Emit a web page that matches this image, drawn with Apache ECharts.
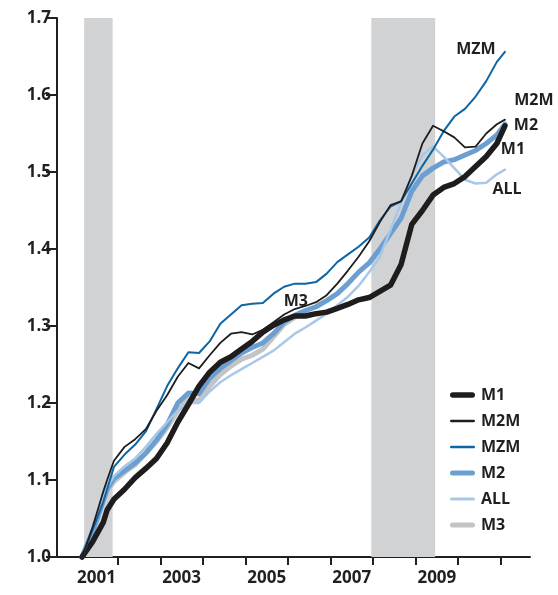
<!DOCTYPE html>
<html>
<head>
<meta charset="utf-8">
<script src="https://cdn.jsdelivr.net/npm/echarts@6/dist/echarts.min.js"></script>
<style>
html,body{margin:0;padding:0;background:#fff;}
#chart{width:558px;height:595px;}
</style>
</head>
<body>
<div id="chart"></div>
<script>
// Decimal-year dates of the observations
var dates = [2001.16, 2001.41, 2001.66, 2001.75, 2001.91, 2002.16, 2002.41, 2002.66, 2002.91,
  2003.16, 2003.41, 2003.66, 2003.91, 2004.16, 2004.41, 2004.66, 2004.91,
  2005.16, 2005.41, 2005.66, 2005.91, 2006.16, 2006.41, 2006.66, 2006.91,
  2007.16, 2007.41, 2007.66, 2007.91, 2008.16, 2008.41, 2008.66, 2008.91,
  2009.16, 2009.41, 2009.66, 2009.91, 2010.16, 2010.41, 2010.66, 2010.91, 2011.10];

var M1 = [1.0, 1.02, 1.045, 1.061, 1.075, 1.088, 1.103, 1.115, 1.128,
  1.148, 1.175, 1.198, 1.222, 1.24, 1.253, 1.26, 1.27,
  1.28, 1.292, 1.301, 1.308, 1.313, 1.313, 1.316, 1.318,
  1.323, 1.328, 1.334, 1.337, 1.345, 1.353, 1.38, 1.432,
  1.45, 1.47, 1.48, 1.485, 1.494, 1.507, 1.52, 1.537, 1.56];

var M2M = [1.0, 1.039, 1.085, 1.1, 1.125, 1.143, 1.153, 1.166, 1.19,
  1.21, 1.234, 1.252, 1.245, 1.262, 1.278, 1.29, 1.292,
  1.289, 1.295, 1.305, 1.315, 1.322, 1.326, 1.331, 1.34,
  1.355, 1.372, 1.39, 1.41, 1.435, 1.457, 1.462, 1.495,
  1.537, 1.56, 1.553, 1.545, 1.532, 1.533, 1.55, 1.562, 1.568];

var MZM = [1.0, 1.035, 1.072, 1.088, 1.117, 1.133, 1.146, 1.163, 1.192,
  1.222, 1.245, 1.266, 1.265, 1.28, 1.303, 1.315, 1.327,
  1.329, 1.33, 1.342, 1.351, 1.355, 1.355, 1.357, 1.368,
  1.383, 1.393, 1.403, 1.415, 1.437, 1.455, 1.462, 1.485,
  1.508, 1.529, 1.553, 1.572, 1.582, 1.598, 1.618, 1.643, 1.656];

var M2 = [1.0, 1.033, 1.073, 1.088, 1.102, 1.112, 1.122, 1.135, 1.152,
  1.172, 1.2, 1.213, 1.212, 1.232, 1.245, 1.255, 1.265,
  1.272, 1.278, 1.29, 1.305, 1.314, 1.32, 1.325, 1.333,
  1.342, 1.355, 1.37, 1.382, 1.4, 1.42, 1.44, 1.475,
  1.495, 1.505, 1.513, 1.516, 1.522, 1.528, 1.537, 1.548, 1.562];

var ALL = [1.0, 1.035, 1.077, 1.09, 1.105, 1.118, 1.128, 1.143, 1.16,
  1.175, 1.19, 1.2, 1.2, 1.215, 1.227, 1.236, 1.244,
  1.252, 1.26, 1.268, 1.279, 1.29, 1.298, 1.307, 1.316,
  1.327, 1.338, 1.352, 1.37, 1.39, 1.425, 1.46, 1.495,
  1.522, 1.533, 1.52, 1.505, 1.49, 1.485, 1.486, 1.497, 1.503];

var M3 = [1.0, 1.034, 1.075, 1.086, 1.098, 1.11, 1.12, 1.135, 1.15,
  1.168, 1.19, 1.206, 1.203, 1.222, 1.237, 1.248, 1.257,
  1.262, 1.27, 1.286, 1.302, 1.311, null, null, null,
  null, null, null, null, null, null, null, null,
  null, null, null, null, null, null, null, null, null];

// Recession periods (decimal years)
var recessions = [[2001.21, 2001.88], [2007.96, 2009.46]];

// Axis ticks and labels
var yearTicks = [2002, 2003, 2004, 2005, 2006, 2007, 2008, 2009, 2010, 2011];
var yearLabels = [2001, 2003, 2005, 2007, 2009];

var FONT = '"Open Sans", "DejaVu Sans", sans-serif';
var INK = '#231f20';

function pairs(vals) {
  return dates.map(function (d, i) { return [d, vals[i]]; });
}
function lastIdx(vals) {
  for (var i = vals.length - 1; i >= 0; i--) if (vals[i] !== null) return i;
  return 0;
}
function endLabel(name, vals, offset) {
  var i = lastIdx(vals);
  return {
    symbol: 'circle',
    symbolSize: 2,
    silent: true,
    animation: false,
    itemStyle: { color: 'rgba(0,0,0,0)', borderWidth: 0 },
    label: {
      show: true, position: 'inside', formatter: name, offset: offset,
      color: INK, fontFamily: FONT, fontWeight: 'bold', fontSize: 16
    },
    data: [{ name: name, coord: [dates[i], vals[i]], value: vals[i] }]
  };
}

var COLORS = { M1: '#1f1c1d', M2M: '#1f1c1d', MZM: '#0e65a3', M2: '#6c9fd1', ALL: '#a9c7e7', M3: '#c3c4c6' };
var WIDTHS = { M1: 5.5, M2M: 1.8, MZM: 2, M2: 5, ALL: 2.5, M3: 5 };

function lineSeries(name, vals, z, labelOffset) {
  var s = {
    name: name,
    type: 'line',
    data: pairs(vals),
    showSymbol: false,
    connectNulls: false,
    clip: false,
    z: z,
    animation: false,
    lineStyle: { color: COLORS[name], width: WIDTHS[name], cap: 'round', join: 'round' },
    itemStyle: { color: COLORS[name] }
  };
  if (labelOffset) s.markPoint = endLabel(name, vals, labelOffset);
  return s;
}

function legendIcon(w) {
  var h = w, r = h / 2;
  return 'path://M' + r + ',0 L' + (25 - r) + ',0 A' + r + ',' + r + ' 0 0 1 ' + (25 - r) + ',' + h +
    ' L' + r + ',' + h + ' A' + r + ',' + r + ' 0 0 1 ' + r + ',0 Z';
}

var chart = echarts.init(document.getElementById('chart'), null, { renderer: 'canvas' });

var recessionSeries = {
  name: 'recession',
  type: 'line',
  data: [],
  silent: true,
  animation: false,
  z: 1,
  markArea: {
    silent: true,
    itemStyle: { color: '#d1d2d4' },
    data: recessions.map(function (r) {
      return [{ xAxis: r[0], yAxis: 1.0 }, { xAxis: r[1], yAxis: 1.7 }];
    })
  }
};

var legendNames = ['M1', 'M2M', 'MZM', 'M2', 'ALL', 'M3'];

var option = {
  backgroundColor: '#ffffff',
  animation: false,
  grid: { left: 57, right: 28, top: 18, bottom: 38, containLabel: false },
  xAxis: {
    type: 'value',
    min: 2000.572,
    max: 2011.689,
    splitLine: { show: false },
    axisLine: { show: true, onZero: false, lineStyle: { color: INK, width: 2 } },
    axisTick: { show: true, customValues: yearTicks, length: 8, lineStyle: { color: INK, width: 2 } },
    axisLabel: {
      show: true, customValues: yearLabels.map(function (y) { return y + 0.5; }),
      formatter: function (v) { return String(Math.floor(v)); },
      margin: 13, color: INK, fontFamily: FONT, fontWeight: 'bold', fontSize: 17
    }
  },
  yAxis: {
    type: 'value',
    min: 1.0,
    max: 1.7,
    interval: 0.1,
    splitLine: { show: false },
    axisLine: { show: true, lineStyle: { color: INK, width: 2 } },
    axisTick: { show: true, length: 11, lineStyle: { color: INK, width: 2 } },
    axisLabel: {
      formatter: function (v) { return v.toFixed(1); },
      margin: 6, color: INK, fontFamily: FONT, fontWeight: 'bold', fontSize: 17
    }
  },
  legend: {
    orient: 'vertical',
    left: 445,
    top: 382,
    itemWidth: 25,
    itemHeight: 14,
    itemGap: 10,
    symbolKeepAspect: true,
    data: legendNames.map(function (n) {
      return { name: n, icon: legendIcon(WIDTHS[n] < 3 ? WIDTHS[n] + 0.5 : WIDTHS[n]), itemStyle: { color: COLORS[n] } };
    }),
    textStyle: { color: INK, fontFamily: FONT, fontWeight: 'bold', fontSize: 16, padding: [0, 0, 0, 1] },
    selectedMode: false
  },
  series: [
    recessionSeries,
    lineSeries('M3', M3, 2, [1, -16]),
    lineSeries('M2', M2, 3, [21, 1]),
    lineSeries('ALL', ALL, 4, [2, 20]),
    lineSeries('M1', M1, 5, [8, 24]),
    lineSeries('MZM', MZM, 6, [-29, -2]),
    lineSeries('M2M', M2M, 7, [29, -19])
  ]
};

chart.setOption(option);
</script>
</body>
</html>
